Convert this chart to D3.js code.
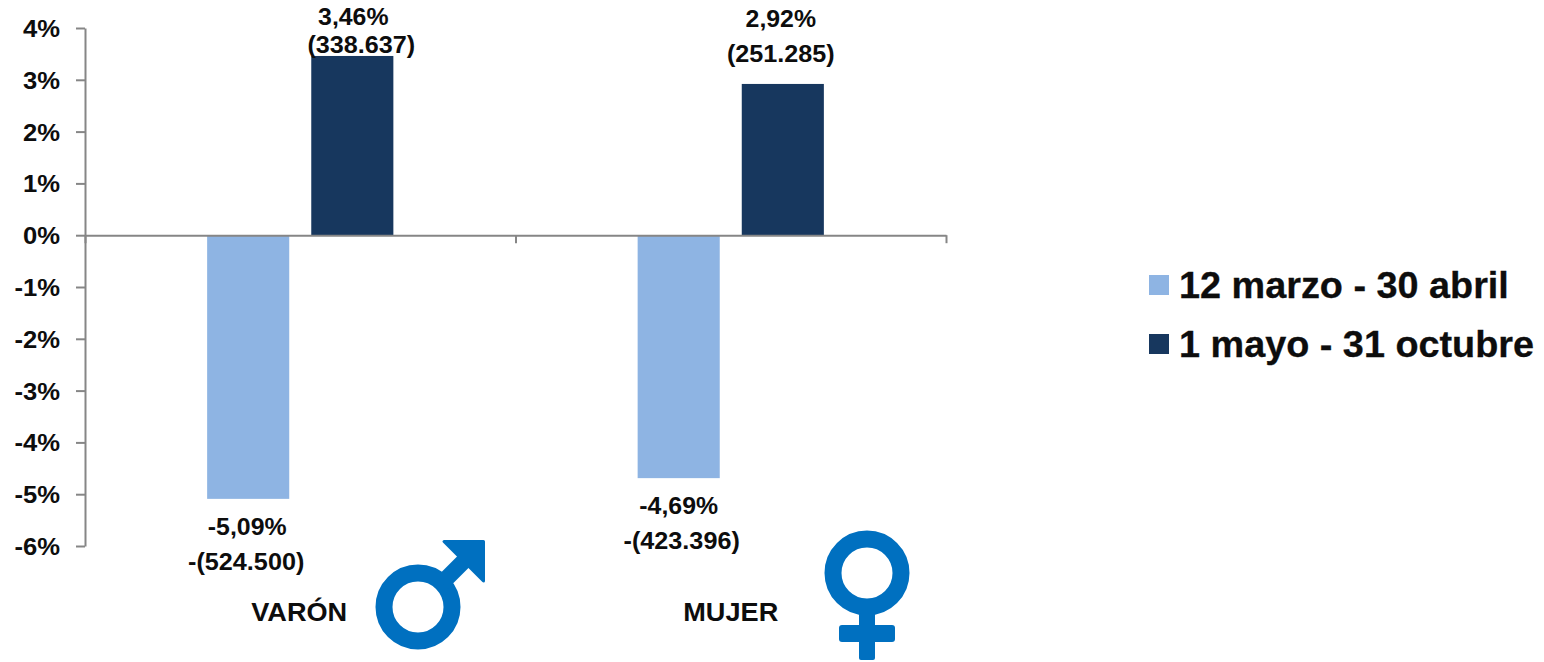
<!DOCTYPE html>
<html>
<head>
<meta charset="utf-8">
<script src="https://cdn.jsdelivr.net/npm/d3@7/dist/d3.min.js"></script>
<style>
  html, body { margin: 0; padding: 0; background: #fff; }
  svg { display: block; }
  text { font-family: "Liberation Sans", Arial, sans-serif; font-weight: bold; fill: #0d0d0d; }
</style>
</head>
<body>
<svg id="chart" width="1544" height="662"></svg>
<script>
var categories = ["VARÓN", "MUJER"];
var series = ["12 marzo - 30 abril", "1 mayo - 31 octubre"];
var colors = ["#8eb4e3", "#17375e"];
var values = [[-5.09, 3.46], [-4.69, 2.92]];
var pctLabels = [["-5,09%", "3,46%"], ["-4,69%", "2,92%"]];
var countLabels = [["-(524.500)", "(338.637)"], ["-(423.396)", "(251.285)"]];
var yTicks = [4, 3, 2, 1, 0, -1, -2, -3, -4, -5, -6];

var svg = d3.select("#chart");

var y = d3.scaleLinear().domain([-6, 4]).range([546, 28]);
var x0 = d3.scaleBand().domain(categories).range([85, 946]);
var x1 = d3.scaleBand().domain(d3.range(series.length))
    .range([0, x0.bandwidth()]).paddingInner(0.2115).paddingOuter(1.173);

// label nudges per bar: [dx pct, dy pct, dx count, dy count], from the bar end
var nudges = [
  [[-1, 28, -2, 63], [1, -39, 9, -11]],
  [[0, 28, 3, 63], [-2, -65, -2, -30]]
];

// the original picture is stretched sideways, so widen the text to match
function stretch(sel, k) {
  sel.each(function() {
    d3.select(this)
        .attr("lengthAdjust", "spacingAndGlyphs")
        .attr("textLength", this.getComputedTextLength() * k);
  });
}

// bars
var groups = svg.selectAll("g.cat")
    .data(categories)
    .enter().append("g")
    .attr("class", "cat")
    .attr("transform", function(d) { return "translate(" + x0(d) + ",0)"; });

groups.each(function(cat, i) {
  var g = d3.select(this);
  g.selectAll("rect")
      .data(values[i])
      .enter().append("rect")
      .attr("x", function(d, j) { return x1(j); })
      .attr("width", x1.bandwidth())
      .attr("y", function(d) { return y(Math.max(d, 0)); })
      .attr("height", function(d) { return Math.abs(y(d) - y(0)); })
      .style("fill", function(d, j) { return colors[j]; });

  g.selectAll("text.pct")
      .data(values[i])
      .enter().append("text")
      .attr("class", "pct")
      .attr("text-anchor", "middle")
      .attr("dy", "0.35em")
      .attr("x", function(d, j) { return x1(j) + x1.bandwidth() / 2 + nudges[i][j][0]; })
      .attr("y", function(d, j) { return y(d) + nudges[i][j][1]; })
      .style("font-size", "23px")
      .text(function(d, j) { return pctLabels[i][j]; })
      .call(stretch, 1.08);

  g.selectAll("text.count")
      .data(values[i])
      .enter().append("text")
      .attr("class", "count")
      .attr("text-anchor", "middle")
      .attr("dy", "0.35em")
      .attr("x", function(d, j) { return x1(j) + x1.bandwidth() / 2 + nudges[i][j][2]; })
      .attr("y", function(d, j) { return y(d) + nudges[i][j][3]; })
      .style("font-size", "23px")
      .text(function(d, j) { return countLabels[i][j]; })
      .call(stretch, 1.095);

  g.append("text")
      .attr("x", x0.bandwidth() / 2 - (i ? 0 : 1))
      .attr("y", 612)
      .attr("dy", "0.35em")
      .attr("text-anchor", "middle")
      .style("font-size", "25px")
      .text(cat)
      .call(stretch, 1.085);
});

// axes
var yAxis = d3.axisLeft(y)
    .tickValues(yTicks)
    .tickSize(9)
    .tickPadding(16)
    .tickSizeOuter(0)
    .tickFormat(function(d) { return d + "%"; });

var xTicks = d3.scaleLinear().domain([0, categories.length]).range(x0.range());
var xAxis = d3.axisBottom(xTicks)
    .tickValues(d3.range(categories.length + 1))
    .tickSize(8)
    .tickSizeOuter(0)
    .tickFormat("");

var gy = svg.append("g").attr("transform", "translate(85,0)").call(yAxis);
var gx = svg.append("g").attr("transform", "translate(0," + y(0) + ")").call(xAxis);

svg.selectAll(".domain, .tick line").style("stroke", "#868686").style("stroke-width", 2);
gy.selectAll("text")
    .attr("y", 1)
    .style("font-size", "23.5px")
    .style("fill", "#0d0d0d")
    .call(stretch, 1.09);

// legend
var legendY = d3.scalePoint().domain(series).range([285, 344]);
var legend = svg.selectAll("g.leg")
    .data(series)
    .enter().append("g")
    .attr("class", "leg")
    .attr("transform", function(d) { return "translate(1149," + legendY(d) + ")"; });

legend.append("rect")
    .attr("y", -10)
    .attr("width", 20)
    .attr("height", 20)
    .style("fill", function(d, i) { return colors[i]; });

legend.append("text")
    .attr("x", 30)
    .attr("dy", "0.35em")
    .style("font-size", "36px")
    .style("stroke", "#0d0d0d")
    .style("stroke-width", 0.3)
    .text(function(d) { return d; })
    .call(stretch, 1.05);

// gender symbols
var symbolBlue = "#0070c0";

var male = svg.append("g").attr("transform", "translate(418,607)");
male.append("circle").attr("r", 34).style("fill", "none").style("stroke", symbolBlue).style("stroke-width", 17);
male.append("path")
    .attr("d", "M24,-24L58,-58")
    .style("stroke", symbolBlue).style("stroke-width", 16).style("fill", "none");
male.append("path")
    .attr("d", "M26,-65.5L65.5,-65.5L65.5,-26Z")
    .style("fill", symbolBlue).style("stroke", symbolBlue)
    .style("stroke-width", 3).style("stroke-linejoin", "round");

var female = svg.append("g").attr("transform", "translate(867,573)");
female.append("circle").attr("r", 34).style("fill", "none").style("stroke", symbolBlue).style("stroke-width", 17);
female.append("rect").attr("x", -8).attr("y", 40).attr("width", 16).attr("height", 47).attr("rx", 2).style("fill", symbolBlue);
female.append("rect").attr("x", -28).attr("y", 52).attr("width", 56).attr("height", 17).attr("rx", 3).style("fill", symbolBlue);
</script>
</body>
</html>
